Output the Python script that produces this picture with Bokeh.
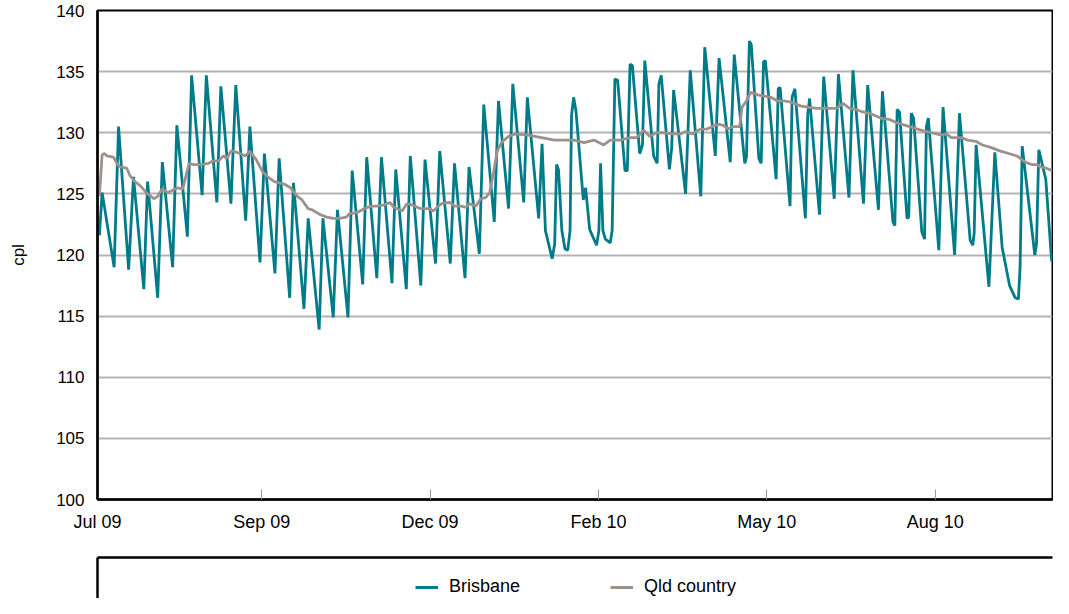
from bokeh.plotting import figure
from bokeh.models import Range1d, FixedTicker, Legend, LegendItem
from bokeh.layouts import column
from bokeh.embed import file_html
from bokeh.resources import INLINE

# x = days since start of axis (early Jul 2009)
tick_days = [0, 78, 158, 238, 318, 398]
tick_labels = ["Jul 09", "Sep 09", "Dec 09", "Feb 10", "May 10", "Aug 10"]

brisbane_day = [
    0.9, 2.2, 7.9, 10.0, 14.8, 17.1, 22.0, 23.8, 28.6, 30.8, 35.7, 37.7, 42.7, 44.7, 49.7, 51.7,
    56.7, 58.6, 63.4, 65.7, 70.4, 72.4, 77.2, 79.3, 84.3, 86.3, 91.3, 93.1, 98.1, 100.1, 105.3, 107.1,
    112.0, 114.0, 119.0, 121.0, 126.0, 127.9, 132.7, 134.9, 139.9, 141.7, 146.7, 148.6, 153.6, 155.6,
    160.6, 162.6, 167.6, 169.6, 174.6, 176.5, 181.4, 183.5, 188.5, 190.5, 195.3, 197.3, 202.5, 204.2,
    209.6, 211.2, 212.8, 216.0, 217.2, 218.1, 219.0, 220.6, 222.1, 223.4, 224.5, 225.2, 226.2, 227.3,
    230.8, 231.9, 233.8, 237.1, 238.2, 239.0, 240.1, 241.3, 243.6, 244.5, 245.8, 247.1, 250.6, 251.7,
    253.0, 254.1, 257.6, 258.9, 260.0, 264.2, 265.9, 266.7, 267.8, 271.7, 272.8, 273.7, 279.4, 281.6,
    286.6, 288.5, 293.5, 295.3, 300.6, 302.5, 307.5, 308.3, 309.7, 310.6, 314.2, 315.3, 316.4, 317.3,
    322.4, 323.4, 324.3, 329.0, 330.0, 331.3, 336.3, 337.4, 338.3, 343.0, 345.0, 350.0, 352.0, 357.0,
    358.9, 363.9, 365.9, 371.0, 372.9, 377.9, 378.8, 379.9, 381.0, 384.6, 385.4, 386.6, 387.7, 391.6,
    392.9, 393.8, 394.7, 399.7, 401.7, 407.2, 409.5, 414.6, 415.8, 416.5, 417.4, 423.5, 426.3, 429.8,
    433.3, 436.0, 437.5, 438.3, 439.3, 445.3, 446.1, 447.2, 450.5, 453.3,
]
brisbane_cpl = [
    121.6, 125.1, 119.0, 130.5, 118.8, 126.4, 117.2, 126.0, 116.5, 127.6, 119.0, 130.6, 121.5, 134.7, 124.9, 134.7,
    124.3, 133.8, 124.2, 133.9, 122.8, 130.5, 119.4, 128.3, 118.5, 127.9, 116.5, 125.9, 115.6, 123.0, 113.9, 123.0,
    114.9, 123.7, 114.9, 126.9, 117.6, 128.0, 118.1, 128.0, 117.7, 127.0, 117.2, 128.1, 117.5, 127.8,
    119.3, 128.5, 119.3, 127.5, 118.1, 127.2, 120.1, 132.3, 122.7, 132.6, 123.8, 134.0, 124.3, 132.9,
    123.0, 129.1, 122.0, 119.7, 120.9, 127.4, 127.0, 122.0, 120.5, 120.4, 122.0, 131.4, 132.9, 131.8,
    124.5, 125.5, 122.1, 120.8, 122.0, 127.5, 122.0, 121.3, 121.0, 122.0, 134.4, 134.3, 126.9, 126.9,
    135.6, 135.5, 128.3, 129.0, 135.9, 128.1, 127.5, 134.0, 134.7, 127.0, 128.8, 133.5, 125.0, 135.1,
    124.8, 137.0, 128.1, 136.1, 127.6, 136.4, 127.5, 128.0, 137.5, 137.2, 127.9, 127.5, 135.8, 135.9,
    126.2, 133.6, 133.7, 124.0, 132.9, 133.6, 123.0, 131.5, 132.8, 123.3, 134.6, 124.6, 134.8, 124.7,
    135.1, 124.2, 133.9, 123.7, 133.4, 122.7, 122.4, 131.9, 131.7, 123.0, 123.1, 131.6, 131.2, 121.9,
    121.3, 130.5, 131.2, 120.4, 132.1, 120.0, 131.6, 121.2, 120.8, 121.8, 129.0, 117.4, 128.4, 120.6,
    117.5, 116.5, 116.4, 119.0, 128.9, 120.0, 120.9, 128.6, 126.2, 119.5,
]

qld_day = [
    0.9, 2.2, 3.3, 4.5, 7.6, 9.2, 10.7, 13.9, 15.4, 17.8, 20.1, 23.2, 26.8, 28.6, 30.7, 33.3, 35.7, 38.0,
    40.5, 43.5, 45.8, 49.0, 52.8, 55.1, 57.5, 59.8, 61.4, 63.4, 64.5, 67.6, 70.4, 72.3, 75.4, 78.5, 80.8,
    84.0, 88.6, 91.7, 94.9, 97.2, 100.0, 101.9, 105.8, 108.9, 112.0, 115.1, 118.2, 119.8, 121.3, 123.7,
    126.8, 129.9, 133.0, 136.1, 138.9, 140.8, 144.7, 147.0, 149.4, 153.3, 157.2, 159.5, 163.4, 167.3,
    169.6, 172.7, 175.1, 176.6, 179.8, 182.1, 184.4, 186.3, 188.3, 189.9, 191.9, 195.3, 198.5, 204.7,
    207.8, 210.9, 217.1, 226.5, 231.2, 235.8, 240.5, 243.6, 248.3, 253.0, 256.1, 259.5, 260.7, 262.3,
    265.4, 268.5, 273.2, 277.1, 279.4, 282.5, 286.4, 289.6, 291.9, 295.0, 297.3, 299.7, 301.5, 305.1,
    306.2, 308.3, 310.3, 313.7, 316.8, 319.9, 323.0, 326.2, 329.3, 334.0, 337.1, 341.7, 346.4, 351.1,
    354.2, 357.3, 360.4, 363.6, 368.2, 372.1, 376.0, 379.9, 383.8, 387.7, 391.6, 396.3, 400.9, 403.3,
    405.6, 410.3, 413.4, 417.3, 420.4, 424.3, 429.0, 432.9, 436.8, 440.7, 443.8, 446.1, 448.0, 450.8, 453.6,
]
qld_cpl = [
    124.8, 128.2, 128.3, 128.1, 128.0, 127.5, 127.2, 127.1, 126.5, 126.0, 125.7, 125.1, 124.6, 124.8, 125.4, 125.1, 125.3, 125.5,
    125.4, 127.5, 127.4, 127.4, 127.5, 127.7, 127.7, 128.1, 127.9, 128.5, 128.5, 128.3, 128.1, 128.5, 127.8, 126.8, 126.4,
    126.0, 125.8, 125.5, 124.8, 124.5, 123.8, 123.7, 123.3, 123.1, 123.0, 123.0, 123.1, 123.4, 123.4, 123.5,
    123.8, 124.0, 124.0, 124.1, 124.3, 123.9, 123.6, 124.2, 124.1, 123.8, 123.8, 123.6, 124.2, 124.3,
    124.0, 124.0, 123.9, 124.2, 124.0, 124.6, 124.7, 125.1, 126.9, 128.5, 129.2, 129.7, 129.9, 129.8,
    129.7, 129.6, 129.4, 129.4, 129.2, 129.4, 129.0, 129.4, 129.4, 129.6, 129.6, 130.2, 130.0, 129.7,
    130.0, 130.0, 129.9, 129.9, 130.1, 129.9, 130.3, 130.3, 130.5, 130.7, 130.6, 130.3, 130.5, 130.5,
    132.1, 132.6, 133.3, 133.1, 133.0, 132.9, 132.6, 132.6, 132.5, 132.2, 132.1, 132.0, 132.0, 132.0,
    132.4, 132.0, 131.9, 131.7, 131.5, 131.2, 131.1, 130.8, 130.6, 130.4, 130.2, 130.0, 129.8, 129.9,
    129.6, 129.6, 129.4, 129.3, 129.0, 128.8, 128.5, 128.3, 128.1, 127.6, 127.4, 127.4, 127.2, 127.1, 126.9,
]

series_names = ["Brisbane", "Qld country"]

TEAL = "#007b88"
GREY = "#9d918c"
FONT = "Liberation Sans"
FS = "18px"
FSY = "17px"

p = figure(width=1053, height=555, x_range=Range1d(0, 453.7), y_range=Range1d(100, 140),
           toolbar_location=None, output_backend="svg",
           min_border_left=97, min_border_right=1, min_border_top=10, min_border_bottom=56)
p.outline_line_color = "black"
p.outline_line_width = 2

p.line(brisbane_day, brisbane_cpl, line_color=TEAL, line_width=2.8)
p.line(qld_day, qld_cpl, line_color=GREY, line_width=2.8)

p.xgrid.visible = False
p.ygrid.ticker = FixedTicker(ticks=[105, 110, 115, 120, 125, 130, 135])
p.ygrid.grid_line_color = "#b3b3b3"
p.ygrid.grid_line_width = 2

xa = p.xaxis[0]
xa.ticker = FixedTicker(ticks=tick_days)
xa.major_label_overrides = {d: lab for d, lab in zip(tick_days, tick_labels)}
xa.major_tick_in = 10
xa.major_tick_out = 0
xa.major_tick_line_color = "#999999"
xa.minor_tick_line_color = None
xa.axis_line_width = 2.5
xa.axis_line_color = "black"
xa.major_label_standoff = 12
xa.major_label_text_font = FONT
xa.major_label_text_font_size = FS
xa.major_label_text_color = "black"

ya = p.yaxis[0]
ya.ticker = FixedTicker(ticks=[100, 105, 110, 115, 120, 125, 130, 135, 140])
ya.major_tick_line_color = None
ya.minor_tick_line_color = None
ya.axis_line_width = 2.5
ya.axis_line_color = "black"
ya.major_label_standoff = 7
ya.major_label_text_font = FONT
ya.major_label_text_font_size = FSY
ya.major_label_text_color = "black"
ya.axis_label = "cpl"
ya.axis_label_text_font = FONT
ya.axis_label_text_font_size = FSY
ya.axis_label_text_font_style = "normal"
ya.axis_label_text_color = "black"
ya.axis_label_standoff = 25

# legend panel (box open to the right and bottom, like the original)
p2 = figure(width=1053, height=43, x_range=Range1d(0, 1), y_range=Range1d(0, 1),
            toolbar_location=None, output_backend="svg", x_axis_location="above",
            min_border_left=97, min_border_right=0, min_border_top=2, min_border_bottom=0)
p2.outline_line_color = None
p2.grid.visible = False
for ax in (p2.xaxis[0], p2.yaxis[0]):
    ax.ticker = FixedTicker(ticks=[])
    ax.major_tick_line_color = None
    ax.minor_tick_line_color = None
    ax.major_label_text_font_size = "0px"
    ax.major_label_standoff = 0
    ax.axis_line_width = 2.5
    ax.axis_line_color = "black"

nan = float("nan")
r1 = p2.line(x=[nan], y=[nan], line_color=TEAL, line_width=3)
r2 = p2.line(x=[nan], y=[nan], line_color=GREY, line_width=3)
legend = Legend(items=[LegendItem(label=series_names[0], renderers=[r1]),
                       LegendItem(label=series_names[1], renderers=[r2])],
                orientation="horizontal", location=(318, 1),
                border_line_color=None, background_fill_alpha=0,
                padding=0, margin=0, spacing=90, glyph_width=23, glyph_height=16,
                label_standoff=11, label_text_font=FONT, label_text_font_size=FS,
                label_text_color="black")
p2.add_layout(legend)

layout = column(p, p2, spacing=0)
open("out.html", "w").write(file_html(layout, INLINE))
